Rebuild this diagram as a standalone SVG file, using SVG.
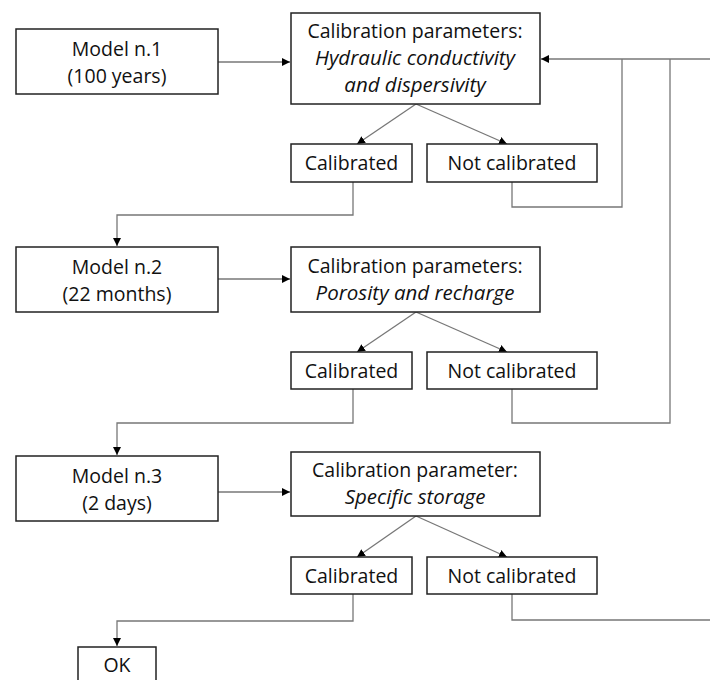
<svg xmlns="http://www.w3.org/2000/svg" width="710" height="680" viewBox="0 0 710 680">
<defs>
<marker id="ah" viewBox="0 0 10 10" refX="10" refY="5" markerWidth="8" markerHeight="8" markerUnits="userSpaceOnUse" orient="auto">
<path d="M0,0 L10,5 L0,10 z" fill="#000"/>
</marker>
<style>
.box{fill:#fff;stroke:#222;stroke-width:1.5}
.t{font-family:"Open Sans","Noto Sans","Liberation Sans",sans-serif;font-size:19.5px;fill:#111;text-anchor:middle}
.i{font-style:italic;font-size:20.5px}
.c{fill:none;stroke:#777;stroke-width:1.3}
.a{marker-end:url(#ah)}
</style>
</defs>
<rect width="710" height="680" fill="#fff"/>
<g id="connectors">
<path class="c a" d="M218,62 H290"/>
<path class="c a" d="M218,279 H290"/>
<path class="c a" d="M218,492 H290"/>
<path class="c a" d="M416,104 L357,144"/>
<path class="c a" d="M416,104 L507,144"/>
<path class="c a" d="M416,312 L357,352"/>
<path class="c a" d="M416,312 L507,352"/>
<path class="c a" d="M416,516 L357,557"/>
<path class="c a" d="M416,516 L507,557"/>
<path class="c a" d="M353,182 V215 H117 V246"/>
<path class="c a" d="M353,389 V423 H117 V455"/>
<path class="c a" d="M353,594 V621 H117 V646"/>
<path class="c a" d="M710,59 H541"/>
<path class="c" d="M512,182 V207 H622 V59"/>
<path class="c" d="M512,389 V423 H670 V59"/>
<path class="c" d="M512,594 V620 H710"/>
</g>
<g id="model1"><rect class="box" x="16" y="29" width="202" height="65"/><text class="t" x="117" y="56">Model n.1</text><text class="t" x="117" y="83">(100 years)</text></g>
<g id="cal1"><rect class="box" x="291" y="13" width="249" height="91"/><text class="t" x="415" y="38">Calibration parameters:</text><text class="t i" x="415" y="65">Hydraulic conductivity</text><text class="t i" x="415" y="92">and dispersivity</text></g>
<g id="calibrated1"><rect class="box" x="291" y="144" width="121" height="38"/><text class="t" x="351.5" y="170">Calibrated</text></g>
<g id="notcal1"><rect class="box" x="427" y="144" width="170" height="38"/><text class="t" x="512" y="170">Not calibrated</text></g>
<g id="model2"><rect class="box" x="16" y="247" width="202" height="65"/><text class="t" x="117" y="274">Model n.2</text><text class="t" x="117" y="301">(22 months)</text></g>
<g id="cal2"><rect class="box" x="291" y="247" width="249" height="65"/><text class="t" x="415" y="273">Calibration parameters:</text><text class="t i" x="415" y="300">Porosity and recharge</text></g>
<g id="calibrated2"><rect class="box" x="291" y="352" width="121" height="37"/><text class="t" x="351.5" y="378">Calibrated</text></g>
<g id="notcal2"><rect class="box" x="427" y="352" width="170" height="37"/><text class="t" x="512" y="378">Not calibrated</text></g>
<g id="model3"><rect class="box" x="16" y="456" width="202" height="65"/><text class="t" x="117" y="483">Model n.3</text><text class="t" x="117" y="510">(2 days)</text></g>
<g id="cal3"><rect class="box" x="291" y="452" width="249" height="64"/><text class="t" x="415" y="477">Calibration parameter:</text><text class="t i" x="415" y="504">Specific storage</text></g>
<g id="calibrated3"><rect class="box" x="291" y="557" width="121" height="37"/><text class="t" x="351.5" y="583">Calibrated</text></g>
<g id="notcal3"><rect class="box" x="427" y="557" width="170" height="37"/><text class="t" x="512" y="583">Not calibrated</text></g>
<g id="ok"><rect class="box" x="78" y="647" width="78" height="45"/><text class="t" x="117" y="672">OK</text></g>
</svg>
